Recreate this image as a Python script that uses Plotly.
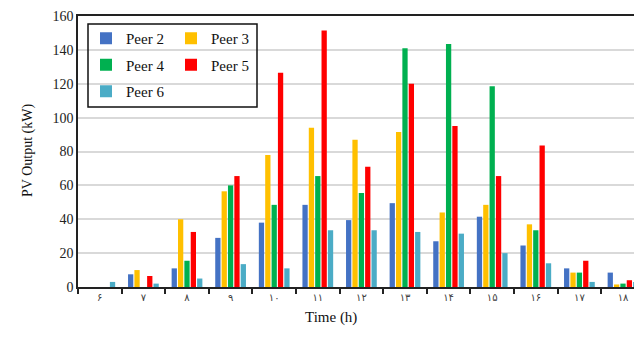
import plotly.graph_objects as go

hours = ["۶", "۷", "۸", "۹", "۱۰", "۱۱", "۱۲", "۱۳", "۱۴", "۱۵", "۱۶", "۱۷", "۱۸"]
peer2 = [0, 7.5, 11, 29, 38, 48.5, 39.5, 49.5, 27, 41.5, 24.5, 11, 8.5]
peer3 = [0, 10, 40, 56.5, 78, 94, 87, 91.5, 44, 48.5, 37, 8.5, 1.5]
peer4 = [0, 0, 15.5, 60, 48.5, 65.5, 55.5, 141, 143.5, 118.5, 33.5, 8.5, 2]
peer5 = [0, 6.5, 32.5, 65.5, 126.5, 151.5, 71, 120, 95, 65.5, 83.5, 15.5, 4]
peer6 = [3, 2, 5, 13.5, 11, 33.5, 33.5, 32.5, 31.5, 20, 14, 3, 3]
yticks = [0, 20, 40, 60, 80, 100, 120, 140, 160]

series = [
    ("Peer 2", peer2, "#4472C4", "legend"),
    ("Peer 3", peer3, "#FFC000", "legend2"),
    ("Peer 4", peer4, "#00B050", "legend"),
    ("Peer 5", peer5, "#FF0000", "legend2"),
    ("Peer 6", peer6, "#4BACC6", "legend"),
]

fig = go.Figure()
for i, (name, vals, color, lg) in enumerate(series):
    fig.add_trace(go.Bar(
        x=hours, y=vals, name=name, marker_color=color,
        marker_line_width=0, legend=lg, legendgroup=name,
    ))

# page has an 8px body margin; figure starts at page (8, 8)
W, H = 634, 336
L, R, T, B = 70, 0, 8, 57
PL, PT, PB = 78, 16, 287   # plot area in page pixels
pw, ph = 564, PB - PT

def px(x):
    return (x - PL) / pw

def py(y):
    return (PB - y) / ph

serif = "Liberation Serif"
legfont = dict(family=serif, size=15, color="#111111")

fig.update_layout(
    width=W, height=H,
    margin=dict(l=L, r=R, t=T, b=B),
    plot_bgcolor="white", paper_bgcolor="white",
    barmode="group", bargap=0.27, bargroupgap=0.17,
    showlegend=True,
    legend=dict(x=px(86), y=py(22), xanchor="left", yanchor="top",
                font=legfont, bgcolor="rgba(0,0,0,0)", borderwidth=0,
                traceorder="grouped", tracegroupgap=4,
                itemwidth=30),
    legend2=dict(x=px(171), y=py(22), xanchor="left", yanchor="top",
                 font=legfont, bgcolor="rgba(0,0,0,0)", borderwidth=0,
                 traceorder="grouped", tracegroupgap=4,
                 itemwidth=30),
    xaxis=dict(
        type="category", range=[-0.5, -0.5 + pw / 43.6],
        showline=True, linecolor="#222222", linewidth=1.5, mirror=True,
        ticks="outside", tickson="boundaries", ticklen=5, tickcolor="#222222",
        tickwidth=1.5,
        tickfont=dict(family="DejaVu Sans", size=10, color="#404040"),
        showgrid=False,
    ),
    yaxis=dict(
        range=[0, 160], tickvals=yticks,
        showline=True, linecolor="#222222", linewidth=1.5,
        gridcolor="#d9d9d9", gridwidth=1.5,
        tickfont=dict(family=serif, size=14, color="#222222"),
        ticks="", zeroline=False,
    ),
    shapes=[dict(type="rect", xref="paper", yref="paper",
                 x0=px(88), x1=px(257), y0=py(107), y1=py(24),
                 line=dict(color="#111111", width=1.5))],
    annotations=[
        dict(text="PV Output (kW)", textangle=-90, xref="paper", yref="paper",
             x=px(18), y=py(151), showarrow=False,
             font=dict(family=serif, size=14, color="#111111")),
        dict(text="Time (h)", xref="paper", yref="paper",
             x=px(331), y=py(328), showarrow=False,
             font=dict(family=serif, size=15, color="#111111")),
    ],
)

fig.write_html("out.html")
